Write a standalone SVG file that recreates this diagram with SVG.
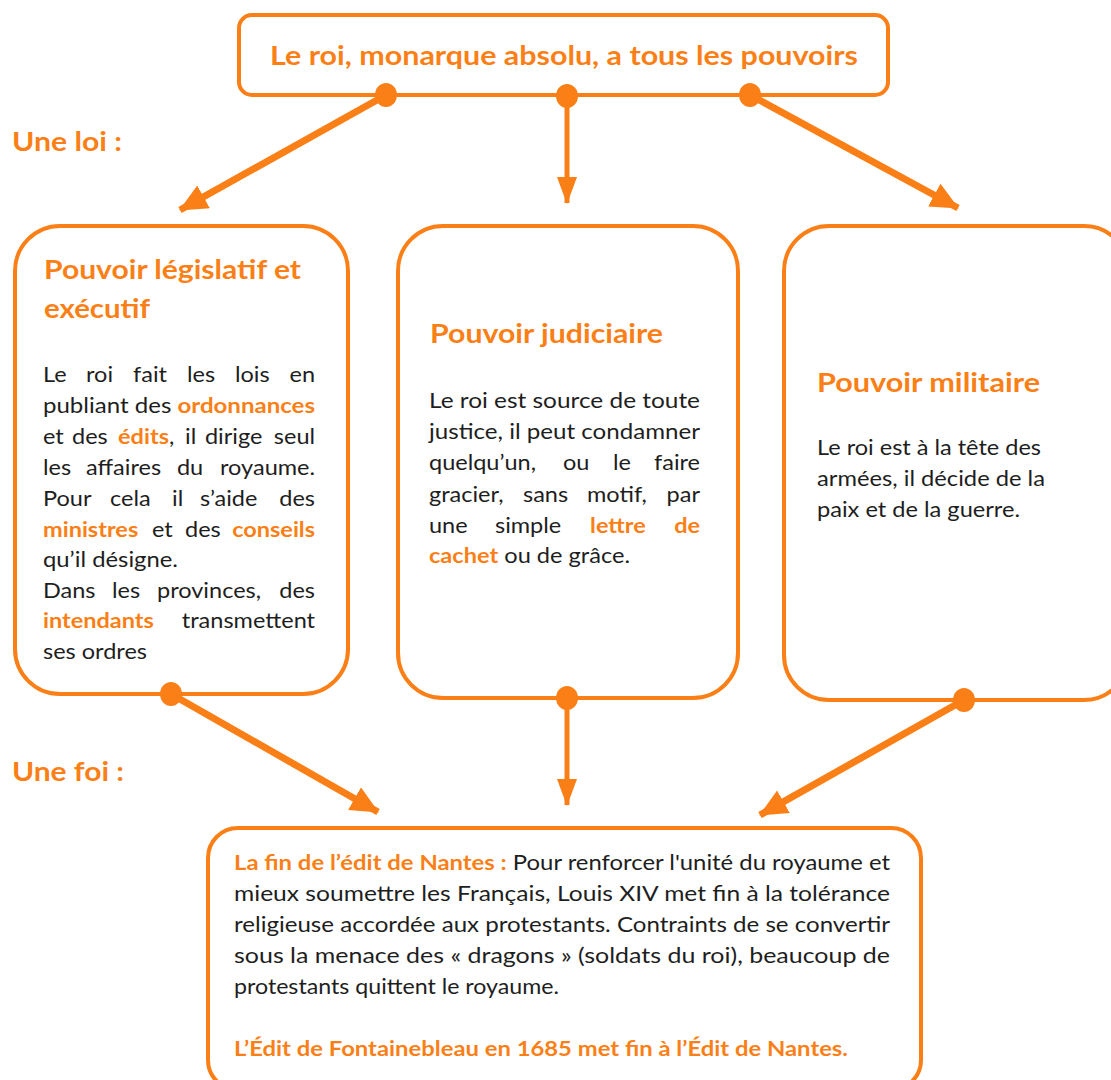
<svg xmlns="http://www.w3.org/2000/svg" width="1111" height="1080" viewBox="0 0 1111 1080">
<style>
.box{fill:#fff;stroke:#FB7F17;stroke-width:4}
.o{fill:#FB7F17}
.t{font-family:Lato,"Open Sans","Liberation Sans",sans-serif;font-size:21px;fill:#1e1e1e}
.h{font-family:Lato,"Open Sans","Liberation Sans",sans-serif;font-size:26px;font-weight:bold;fill:#FB7F17}
.b{font-weight:bold;fill:#FB7F17}
.e{text-anchor:end}
.ln{stroke:#FB7F17;fill:none}
</style>
<defs>
<marker id="ah" markerUnits="userSpaceOnUse" markerWidth="32" markerHeight="28" refX="27" refY="13" orient="auto">
<path d="M0,0 L28,13 L0,26 z" fill="#FB7F17"/>
</marker>
<marker id="ahs" markerUnits="userSpaceOnUse" markerWidth="30" markerHeight="22" refX="26" refY="10" orient="auto">
<path d="M0,0 L27,10 L0,20 z" fill="#FB7F17"/>
</marker>
</defs>

<text class="h" x="12" y="151" textLength="110" lengthAdjust="spacingAndGlyphs">Une loi :</text>
<text class="h" x="12" y="781" textLength="112" lengthAdjust="spacingAndGlyphs">Une foi :</text>

<g id="top">
<rect class="box" x="239" y="15" width="649" height="80" rx="13" stroke-width="3.5"/>
<text class="h" x="270" y="65" textLength="588" lengthAdjust="spacingAndGlyphs">Le roi, monarque absolu, a tous les pouvoirs</text>
</g>

<g id="legislatif">
<rect class="box" x="15" y="226" width="333" height="468" rx="45"/>
<text class="h" x="44" y="279" textLength="257" lengthAdjust="spacingAndGlyphs">Pouvoir législatif et</text>
<text class="h" x="44" y="318" textLength="106" lengthAdjust="spacingAndGlyphs">exécutif</text>
<g transform="matrix(1.12,0,0,1,-5.16,0)">
<text class="t" x="43" y="382">Le<tspan x="81.4">roi</tspan><tspan x="123.4">fait</tspan><tspan x="171.6">les</tspan><tspan x="214.4">lois</tspan><tspan class="e" x="285.9">en</tspan></text>
<text class="t" x="43" y="444">et<tspan x="68.9">des</tspan><tspan x="110" class="b">édits</tspan>,<tspan x="169.8">il</tspan><tspan x="187.6">dirige</tspan><tspan class="e" x="285.9">seul</tspan></text>
<text class="t" x="43" y="475">les<tspan x="81.4">affaires</tspan><tspan x="162.6">du</tspan><tspan class="e" x="285.9">royaume.</tspan></text>
<text class="t" x="43" y="506">Pour<tspan x="102.8">cela</tspan><tspan x="158.2">il</tspan><tspan x="183.2">s’aide</tspan><tspan class="e" x="285.9">des</tspan></text>
<text class="t" x="43" y="537"><tspan class="b">ministres</tspan><tspan x="140.3">et</tspan><tspan x="169.8">des</tspan><tspan class="b e" x="285.9">conseils</tspan></text>
<text class="t" x="43" y="598">Dans<tspan x="104.6">les</tspan><tspan x="144.8">provinces,</tspan><tspan class="e" x="285.9">des</tspan></text>
<text class="t" x="43" y="628"><tspan class="b">intendants</tspan><tspan class="e" x="285.9">transmettent</tspan></text>
</g>
<text class="t" x="43" y="413" textLength="272" lengthAdjust="spacingAndGlyphs">publiant des <tspan class="b">ordonnances</tspan></text>
<text class="t" x="43" y="567" textLength="135" lengthAdjust="spacingAndGlyphs">qu’il désigne.</text>
<text class="t" x="43" y="659" textLength="104" lengthAdjust="spacingAndGlyphs">ses ordres</text>
</g>

<g id="judiciaire">
<rect class="box" x="398" y="226" width="340" height="472" rx="45"/>
<text class="h" x="430" y="343" textLength="233" lengthAdjust="spacingAndGlyphs">Pouvoir judiciaire</text>
<text class="t" x="429" y="408" textLength="271" lengthAdjust="spacingAndGlyphs">Le roi est source de toute</text>
<text class="t" x="429" y="439" textLength="271" lengthAdjust="spacingAndGlyphs">justice, il peut condamner</text>
<g transform="matrix(1.12,0,0,1,-51.48,0)">
<text class="t" x="429" y="470">quelqu’un,<tspan x="548.6">ou</tspan><tspan x="593.3">le</tspan><tspan class="e" x="671">faire</tspan></text>
<text class="t" x="429" y="502">gracier,<tspan x="512.9">sans</tspan><tspan x="570.1">motif,</tspan><tspan class="e" x="671">par</tspan></text>
<text class="t" x="429" y="533">une<tspan x="487.9">simple</tspan><tspan class="b" x="572.8">lettre</tspan><tspan class="b e" x="671">de</tspan></text>
</g>
<text class="t" x="429" y="563" textLength="201" lengthAdjust="spacingAndGlyphs"><tspan class="b">cachet</tspan> ou de grâce.</text>
</g>

<g id="militaire">
<rect class="box" x="784" y="226" width="345" height="474" rx="45"/>
<text class="h" x="817" y="392" textLength="223" lengthAdjust="spacingAndGlyphs">Pouvoir militaire</text>
<text class="t" x="817" y="455" textLength="224" lengthAdjust="spacingAndGlyphs">Le roi est à la tête des</text>
<text class="t" x="817" y="486" textLength="228" lengthAdjust="spacingAndGlyphs">armées, il décide de la</text>
<text class="t" x="817" y="517" textLength="203" lengthAdjust="spacingAndGlyphs">paix et de la guerre.</text>
</g>

<g id="nantes">
<rect class="box" x="208" y="828" width="713" height="262" rx="30"/>
<text class="t" x="234" y="870" textLength="656" lengthAdjust="spacingAndGlyphs"><tspan class="b">La fin de l’édit de Nantes :</tspan> Pour renforcer l'unité du royaume et</text>
<text class="t" x="234" y="901" textLength="656" lengthAdjust="spacingAndGlyphs">mieux soumettre les Français, Louis XIV met fin à la tolérance</text>
<text class="t" x="234" y="932" textLength="656" lengthAdjust="spacingAndGlyphs">religieuse accordée aux protestants. Contraints de se convertir</text>
<text class="t" x="234" y="963" textLength="656" lengthAdjust="spacingAndGlyphs">sous la menace des « dragons » (soldats du roi), beaucoup de</text>
<text class="t" x="234" y="994" textLength="325" lengthAdjust="spacingAndGlyphs">protestants quittent le royaume.</text>
<text class="t b" x="234" y="1056" textLength="614" lengthAdjust="spacingAndGlyphs">L’Édit de Fontainebleau en 1685 met fin à l’Édit de Nantes.</text>
</g>

<g id="connectors">
<line class="ln" x1="386" y1="95" x2="180" y2="210" stroke-width="7" marker-end="url(#ah)"/>
<line class="ln" x1="567" y1="95" x2="567" y2="203" stroke-width="5" marker-end="url(#ahs)"/>
<line class="ln" x1="750" y1="95" x2="958" y2="208" stroke-width="7" marker-end="url(#ah)"/>
<line class="ln" x1="171" y1="694" x2="378" y2="812" stroke-width="7" marker-end="url(#ah)"/>
<line class="ln" x1="567" y1="698" x2="567" y2="805" stroke-width="5" marker-end="url(#ahs)"/>
<line class="ln" x1="964" y1="700" x2="760" y2="815" stroke-width="7" marker-end="url(#ah)"/>
<ellipse class="o" cx="386" cy="95" rx="11" ry="12"/>
<ellipse class="o" cx="567" cy="96" rx="11" ry="12"/>
<ellipse class="o" cx="750" cy="95" rx="11" ry="12"/>
<ellipse class="o" cx="171" cy="694" rx="11" ry="12"/>
<ellipse class="o" cx="567" cy="698" rx="11" ry="12"/>
<ellipse class="o" cx="964" cy="700" rx="11" ry="12"/>
</g>
</svg>
